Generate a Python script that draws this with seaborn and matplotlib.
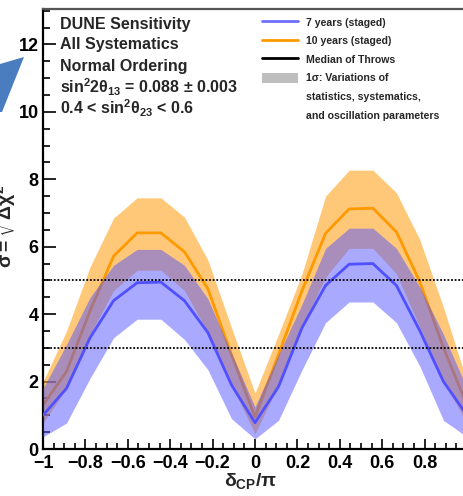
import numpy as np
import pandas as pd
import matplotlib
matplotlib.use("Agg")
import matplotlib.pyplot as plt
import seaborn as sns
from matplotlib.lines import Line2D
from matplotlib.patches import Patch, Polygon

# delta_CP / pi grid (19 points)
dcp = [-1.0, -0.889, -0.778, -0.667, -0.556, -0.444, -0.333, -0.222, -0.111, 0.0,
       0.111, 0.222, 0.333, 0.444, 0.556, 0.667, 0.778, 0.889, 1.0]

# 7 years (staged)
med_7 = [1.0, 1.8, 3.3, 4.4, 4.93, 4.95, 4.4, 3.45, 1.9, 0.78,
         1.85, 3.6, 4.85, 5.48, 5.5, 4.85, 3.5, 2.0, 1.0]
lo_7 = [0.36, 0.77, 2.1, 3.3, 3.85, 3.85, 3.25, 2.35, 0.9, 0.3,
        0.85, 2.35, 3.75, 4.36, 4.36, 3.75, 2.45, 0.85, 0.36]
hi_7 = [1.8, 3.1, 4.5, 5.45, 5.92, 5.92, 5.45, 4.45, 2.85, 1.25,
        2.8, 4.3, 5.95, 6.55, 6.55, 5.95, 4.8, 3.4, 1.8]

# 10 years (staged)
med_10 = [1.3, 2.3, 4.1, 5.72, 6.41, 6.41, 5.85, 4.75, 2.8, 0.95,
          2.8, 4.7, 6.4, 7.12, 7.14, 6.44, 4.95, 3.0, 1.3]
lo_10 = [0.77, 1.8, 3.4, 4.7, 5.3, 5.3, 4.7, 3.45, 1.9, 0.45,
         1.9, 3.65, 5.1, 5.95, 5.95, 5.2, 3.6, 2.0, 0.77]
hi_10 = [2.0, 3.5, 5.4, 6.85, 7.45, 7.45, 6.88, 5.6, 3.6, 1.66,
         3.4, 5.2, 7.5, 8.27, 8.27, 7.6, 6.2, 4.2, 2.0]

sigma_lines = [3, 5]

info_lines = ["DUNE Sensitivity", "All Systematics", "Normal Ordering",
              r"sin$^{2}$2$\theta_{13}$ = 0.088 $\pm$ 0.003",
              r"0.4 < sin$^{2}\theta_{23}$ < 0.6"]

df = pd.DataFrame({"dcp": dcp, "med_7": med_7, "med_10": med_10})

sns.set_style("ticks")
plt.rcParams["font.family"] = ["Liberation Sans", "DejaVu Sans"]
plt.rcParams["font.weight"] = "bold"
plt.rcParams["mathtext.fontset"] = "custom"
plt.rcParams["mathtext.rm"] = "Liberation Sans:bold"
plt.rcParams["mathtext.it"] = "Liberation Sans:bold"
plt.rcParams["mathtext.bf"] = "Liberation Sans:bold"

W, H = 463, 496
fig = plt.figure(figsize=(W / 100, H / 100), dpi=100)
ax = fig.add_axes([43 / W, (H - 449) / H, (467 - 43) / W, (449 - 9) / H])

orange = "#ff9900"
blue = "#5050ff"

# bands and medians
ax.fill_between(df["dcp"], lo_10, hi_10, color="#ffa41f", alpha=0.6, lw=0, zorder=1)
sns.lineplot(data=df, x="dcp", y="med_10", color=orange, lw=2.0, ax=ax, zorder=2)
ax.fill_between(df["dcp"], lo_7, hi_7, color="#5555ff", alpha=0.5, lw=0, zorder=3)
sns.lineplot(data=df, x="dcp", y="med_7", color=blue, lw=2.0, ax=ax, zorder=4)

for s in sigma_lines:
    ax.axhline(s, color="black", lw=1.3, ls=(0, (1, 1)), zorder=5)

ax.set_xlim(-1, 1)
ax.set_ylim(0, 13.05)
ax.set_xticks(np.arange(-1, 1.01, 0.2))
ax.set_xticklabels(["\u22121", "\u22120.8", "\u22120.6", "\u22120.4", "\u22120.2",
                    "0", "0.2", "0.4", "0.6", "0.8", "1"])
ax.set_xticks(np.arange(-1, 1.001, 0.05), minor=True)
ax.set_yticks([0, 2, 4, 6, 8, 10, 12])
ax.set_yticks(np.arange(0, 13.01, 0.5), minor=True)
ax.tick_params(axis="both", which="both", direction="in", width=1.2,
               labelsize=13, colors="black")
ax.tick_params(axis="y", which="major", length=9, pad=3)
ax.tick_params(axis="y", which="minor", length=5)
ax.tick_params(axis="x", which="major", length=7.5, pad=4)
ax.tick_params(axis="x", which="minor", length=4)
for lab in ax.get_xticklabels() + ax.get_yticklabels():
    lab.set_fontweight("bold")
for sp in ax.spines.values():
    sp.set_linewidth(1.6)
    sp.set_color("black")
ax.spines["top"].set_color("#555555")

ax.set_xlabel(r"$\delta_{CP}/\pi$", fontsize=14)
ax.xaxis.set_label_coords(0.49, -0.05)
ax.set_ylabel("")
fig.text(2 / W, 1 - 225 / H, r"$\sigma = \sqrt{\Delta\chi^{2}}$", rotation=90,
         ha="center", va="center", fontsize=14)

# info text
for i, t in enumerate(info_lines):
    fig.text(60 / W, 1 - (24 + 21 * i) / H, t, fontsize=11.5, fontweight="bold",
             ha="left", va="center")

# legend
handles = [Line2D([], [], color="#6e6eff", lw=2),
           Line2D([], [], color=orange, lw=2),
           Line2D([], [], color="black", lw=2),
           Patch(facecolor="#bebebe", edgecolor="none"),
           Line2D([], [], ls="none"),
           Line2D([], [], ls="none")]
labels = ["7 years (staged)", "10 years (staged)", "Median of Throws",
          "1\u03c3: Variations of", "statistics, systematics,",
          "and oscillation parameters"]
ax.legend(handles, labels, loc="upper left", bbox_to_anchor=((262 - 43) / 424, (449 - 17) / 440),
          frameon=False, prop={"size": 7.6, "weight": "bold"}, handlelength=3.4,
          handleheight=1.1, handletextpad=0.75, labelspacing=0.75,
          borderpad=0, borderaxespad=0)

# partial blue arrow at the left edge
fig.patches.append(Polygon([(0, 1 - 64 / H), (24 / W, 1 - 57 / H), (2 / W, 1 - 112 / H),
                            (0, 1 - 112 / H)], closed=True, transform=fig.transFigure,
                           facecolor="#4a7cc0", edgecolor="none", figure=fig))

fig.savefig("out.png", dpi=100)
